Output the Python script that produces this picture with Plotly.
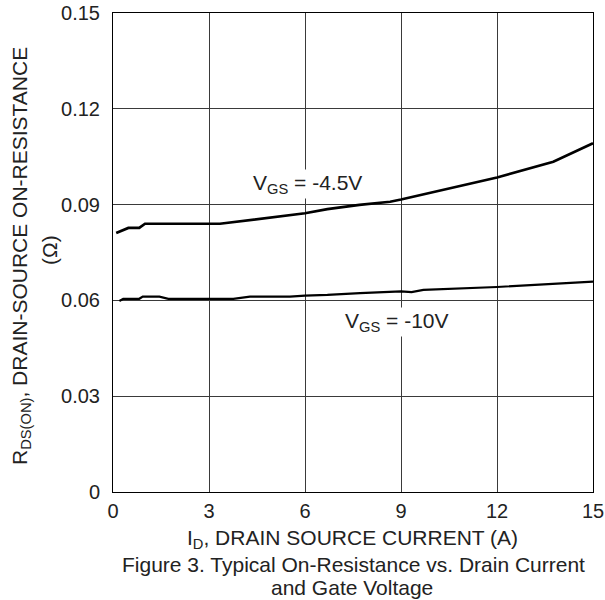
import plotly.graph_objects as go

# Drain current (A) and on-resistance (ohm)
i_45 = [0.1, 0.27, 0.48, 0.82, 1.0, 3.34, 4.38, 6.0, 6.7, 7.7, 8.66, 9.0, 12.0, 13.76, 15.0]
r_45 = [0.0811, 0.0819, 0.0827, 0.0827, 0.0840, 0.0840, 0.0852, 0.0873, 0.0886, 0.0899, 0.0909, 0.0916, 0.0985, 0.1034, 0.1092]

i_10 = [0.2, 0.32, 0.82, 0.93, 1.45, 1.73, 3.76, 4.28, 5.53, 6.0, 6.7, 7.72, 9.0, 9.33, 9.7, 12.0, 15.0]
r_10 = [0.0598, 0.0605, 0.0605, 0.0612, 0.0612, 0.0605, 0.0605, 0.0612, 0.0612, 0.0615, 0.0617, 0.0623, 0.0628, 0.0626, 0.0633, 0.0642, 0.0659]

x_ticks = [0, 3, 6, 9, 12, 15]
y_ticks = [0, 0.03, 0.06, 0.09, 0.12, 0.15]
y_tick_text = ["0", "0.03", "0.06", "0.09", "0.12", "0.15"]

FONT = "Liberation Sans, Arial, sans-serif"
TXT = "#222"
ML, MR, MT, MB = 113, 12, 13, 108
W, H = 605, 600
FS = 21

fig = go.Figure()
fig.add_trace(go.Scatter(x=i_45, y=r_45, mode="lines",
                         line=dict(color="black", width=2.7), showlegend=False))
fig.add_trace(go.Scatter(x=i_10, y=r_10, mode="lines",
                         line=dict(color="black", width=2.2), showlegend=False))

fig.update_layout(
    width=W, height=H,
    margin=dict(l=ML, r=MR, t=MT, b=MB, pad=0),
    paper_bgcolor="white", plot_bgcolor="white",
    font=dict(family=FONT, size=FS, color=TXT),
    showlegend=False,
)
fig.update_xaxes(range=[0, 15], tickvals=x_ticks, ticks="", showgrid=True,
                 gridcolor="#3a3a3a", gridwidth=1, showline=True, linecolor="black",
                 linewidth=1, mirror=True, zeroline=False, automargin=False,
                 ticklabelstandoff=1,
                 tickfont=dict(size=20, family=FONT, color=TXT))
fig.update_yaxes(range=[0, 0.15], tickvals=y_ticks, ticktext=y_tick_text, ticks="",
                 showgrid=True, gridcolor="#3a3a3a", gridwidth=1, showline=True,
                 linecolor="black", linewidth=1, mirror=True, zeroline=False,
                 automargin=False, ticklabelstandoff=8,
                 tickfont=dict(size=20, family=FONT, color=TXT))

fig.add_annotation(x=6.09, y=0.0966, xref="x", yref="y",
                   text="V<sub>GS</sub> = -4.5V", showarrow=False,
                   bgcolor="white", font=dict(size=FS, family=FONT, color=TXT))
fig.add_annotation(x=8.89, y=0.0533, xref="x", yref="y",
                   text="V<sub>GS</sub> = -10V", showarrow=False,
                   bgcolor="white", font=dict(size=FS, family=FONT, color=TXT))


def px_x(px):
    return (px - ML) / (W - ML - MR)


def px_y(py):
    return (H - MB - py) / (H - MT - MB)


def label(px, py, text, angle=0, size=FS):
    fig.add_annotation(x=px_x(px), y=px_y(py), xref="paper", yref="paper",
                       xanchor="center", yanchor="middle", text=text,
                       showarrow=False, textangle=angle,
                       font=dict(size=size, family=FONT, color=TXT))


label(21, 256, "R<sub>DS(ON)</sub>, DRAIN-SOURCE ON-RESISTANCE", -90)
label(49, 250, "(Ω)", -90)
label(352, 539, "I<sub>D</sub>, DRAIN SOURCE CURRENT (A)")
label(353, 564, "Figure 3. Typical On-Resistance vs. Drain Current")
label(352, 587, "and Gate Voltage")

fig.write_html("out.html")
